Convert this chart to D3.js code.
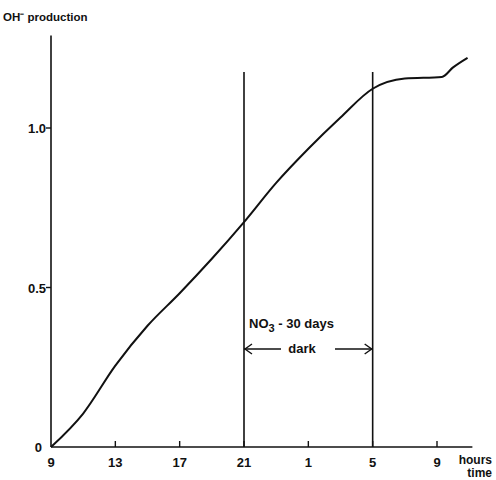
<!DOCTYPE html>
<html>
<head>
<meta charset="utf-8">
<script src="https://cdn.jsdelivr.net/npm/d3@7"></script>
<style>
  body { margin: 0; background: #fff; }
  text { font-family: 'Liberation Sans', Arial, sans-serif; font-weight: bold; fill: #111; }
</style>
</head>
<body>
<div id="chart"></div>
<script>
// hours elapsed since 9:00 and OH- production
const hours = [0, 2, 4, 6, 8, 10, 12, 14, 16, 18, 20, 22, 24.3, 25, 25.9]
const production = [0, 0.105, 0.255, 0.38, 0.482, 0.59, 0.705, 0.828, 0.935, 1.033, 1.123, 1.155, 1.16, 1.19, 1.22]

const xTicks = [0, 4, 8, 12, 16, 20, 24]
const xTickLabels = ['9', '13', '17', '21', '1', '5', '9']
const yTicks = [0, 0.5, 1.0]
const yTickLabels = ['0', '0.5', '1.0']
const darkPeriod = [12, 20]

const width = 496
const height = 480

const svg = d3
  .select('#chart')
  .append('svg')
  .attr('width', width)
  .attr('height', height)

const x = d3.scaleLinear().domain([0, 24]).range([51, 437])
const y = d3.scaleLinear().domain([0, 1]).range([447, 128])

// axes drawn as plain lines like the original figure
svg.append('line')
  .attr('x1', x(0)).attr('x2', x(26.2))
  .attr('y1', y(0)).attr('y2', y(0))
  .attr('stroke', '#111').attr('stroke-width', 1.6)

svg.append('line')
  .attr('x1', x(0)).attr('x2', x(0))
  .attr('y1', y(0)).attr('y2', y(1.29))
  .attr('stroke', '#111').attr('stroke-width', 1.6)

// x ticks point up
svg.selectAll('.xtick')
  .data(xTicks.filter(d => d > 0))
  .enter()
  .append('line')
  .attr('class', 'xtick')
  .attr('x1', d => x(d)).attr('x2', d => x(d))
  .attr('y1', y(0)).attr('y2', y(0) - 6)
  .attr('stroke', '#111').attr('stroke-width', 1.4)

svg.selectAll('.xlabel')
  .data(xTicks)
  .enter()
  .append('text')
  .attr('class', 'xlabel')
  .attr('x', d => x(d))
  .attr('y', 467)
  .attr('text-anchor', 'middle')
  .attr('font-size', 13)
  .text((d, i) => xTickLabels[i])

// y ticks point left
svg.selectAll('.ytick')
  .data(yTicks.filter(d => d > 0))
  .enter()
  .append('line')
  .attr('class', 'ytick')
  .attr('x1', x(0) - 5).attr('x2', x(0))
  .attr('y1', d => y(d)).attr('y2', d => y(d))
  .attr('stroke', '#111').attr('stroke-width', 1.4)

svg.selectAll('.ylabel')
  .data(yTicks)
  .enter()
  .append('text')
  .attr('class', 'ylabel')
  .attr('x', (d, i) => (i === 0 ? 42 : 46))
  .attr('y', d => y(d) + 5)
  .attr('text-anchor', 'end')
  .attr('font-size', 13)
  .text((d, i) => yTickLabels[i])

svg.append('text')
  .attr('x', 3).attr('y', 21)
  .attr('font-size', 11.5)
  .text('OH⁻ production')

svg.append('text')
  .attr('x', 492).attr('y', 464)
  .attr('text-anchor', 'end')
  .attr('font-size', 12)
  .text('hours')

svg.append('text')
  .attr('x', 492).attr('y', 477)
  .attr('text-anchor', 'end')
  .attr('font-size', 12)
  .text('time')

// dark period boundaries
svg.selectAll('.dark')
  .data(darkPeriod)
  .enter()
  .append('line')
  .attr('class', 'dark')
  .attr('x1', d => x(d)).attr('x2', d => x(d))
  .attr('y1', y(0)).attr('y2', 72)
  .attr('stroke', '#111').attr('stroke-width', 1.6)

// the curve
const line = d3.line()
  .x(d => x(d[0]))
  .y(d => y(d[1]))
  .curve(d3.curveMonotoneX)

svg.append('path')
  .datum(hours.map((h, i) => [h, production[i]]))
  .attr('d', line)
  .attr('fill', 'none')
  .attr('stroke', '#111')
  .attr('stroke-width', 2)

// annotation
const note = svg.append('text')
  .attr('x', x(12) + 5).attr('y', 328)
  .attr('font-size', 13)
note.append('tspan').text('NO')
note.append('tspan').attr('dy', 4).attr('font-size', 11).text('3')
note.append('tspan').attr('dy', -4).text(' - 30 days')

svg.append('text')
  .attr('x', 302).attr('y', 353)
  .attr('text-anchor', 'middle')
  .attr('font-size', 13)
  .text('dark')

const arrowY = 349
svg.append('line')
  .attr('x1', x(12)).attr('x2', 281)
  .attr('y1', arrowY).attr('y2', arrowY)
  .attr('stroke', '#111').attr('stroke-width', 1.4)
svg.append('line')
  .attr('x1', 335).attr('x2', x(20))
  .attr('y1', arrowY).attr('y2', arrowY)
  .attr('stroke', '#111').attr('stroke-width', 1.4)

svg.append('path')
  .attr('d', `M${x(12) + 8},${arrowY - 5} L${x(12) + 1},${arrowY} L${x(12) + 8},${arrowY + 5}`)
  .attr('fill', 'none').attr('stroke', '#111').attr('stroke-width', 1.4)
svg.append('path')
  .attr('d', `M${x(20) - 8},${arrowY - 5} L${x(20) - 1},${arrowY} L${x(20) - 8},${arrowY + 5}`)
  .attr('fill', 'none').attr('stroke', '#111').attr('stroke-width', 1.4)
</script>
</body>
</html>
